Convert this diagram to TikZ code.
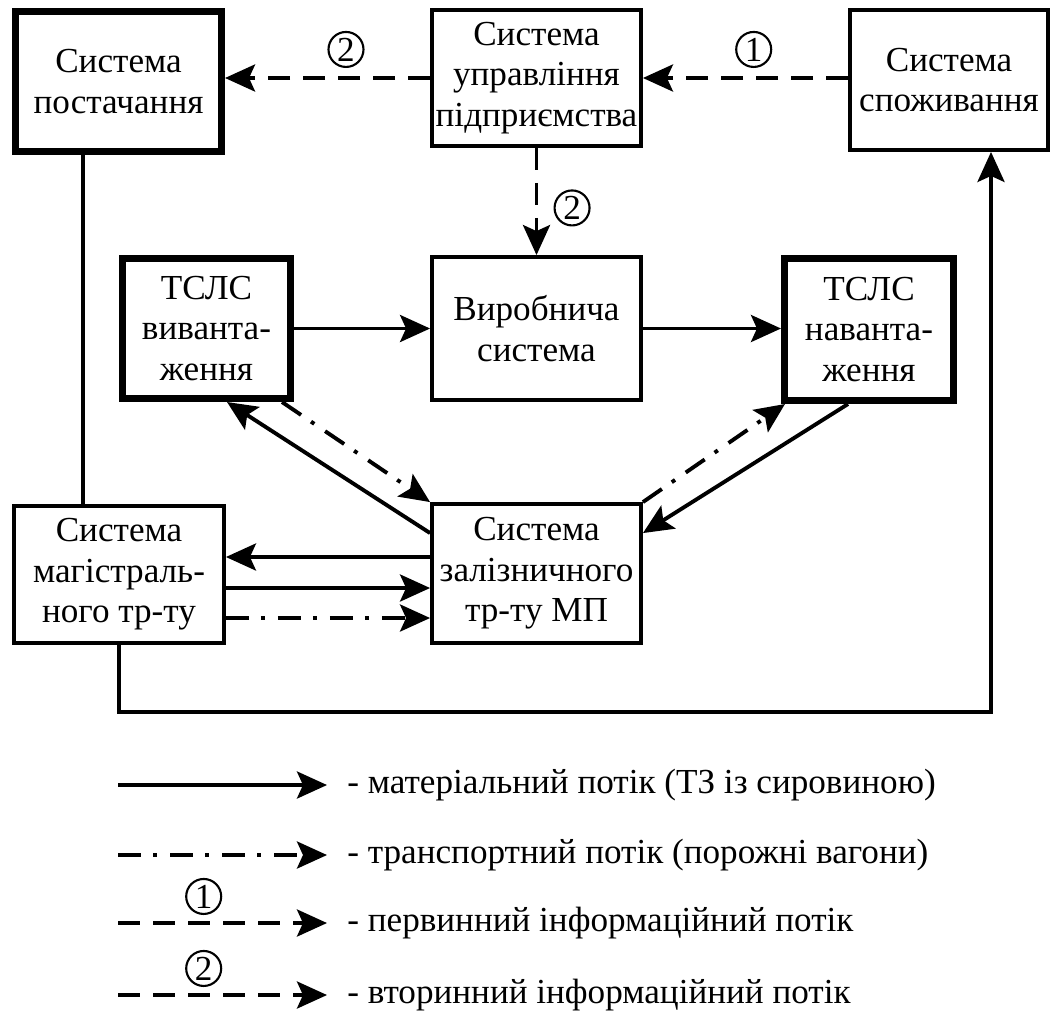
\documentclass[tikz,border=0pt]{standalone}
\usepackage{fontspec}
\setmainfont{Liberation Serif}
\usetikzlibrary{arrows.meta}

\tikzset{
  box/.style={draw, line width=2.2pt, align=center, inner sep=0pt,
    font=\fontsize{20}{23}\selectfont},
  thickbox/.style={box, line width=4pt},
  matflow/.style={-{Stealth[length=6mm, width=5.4mm, inset=1.2mm]}, line width=2.2pt},
  transflow/.style={matflow, dash pattern=on 4.6mm off 2.4mm on 0.8mm off 2.6mm},
  infoflow/.style={matflow, dash pattern=on 4.4mm off 2.6mm},
  num/.style={circle, draw, solid, line width=1.2pt, inner sep=0pt, minimum size=7mm,
    font=\fontsize{20}{20}\selectfont},
  legtext/.style={anchor=west, inner sep=0pt, font=\fontsize{20}{23}\selectfont}
}

\begin{document}
\begin{tikzpicture}[x=0.2mm, y=-0.2mm]
  \useasboundingbox (0,0) rectangle (1054,1014);

  % boxes
  \node[thickbox, minimum width=41.2mm, minimum height=28mm] (post) at (118.5,81.5)
    {Система\\постачання};
  \node[box, minimum width=41.8mm, minimum height=27.2mm] (upr) at (536.5,78)
    {Система\\управління\\підприємства};
  \node[box, minimum width=39.6mm, minimum height=28mm] (spoz) at (949,80)
    {Система\\споживання};
  \node[thickbox, minimum width=33.6mm, minimum height=28mm] (vyv) at (206.5,328.5)
    {ТСЛС\\виванта-\\ження};
  \node[box, minimum width=41.8mm, minimum height=28.6mm] (vyr) at (536.5,328.5)
    {Виробнича\\система};
  \node[thickbox, minimum width=33.8mm, minimum height=28.4mm] (nav) at (869,329.5)
    {ТСЛС\\наванта-\\ження};
  \node[box, minimum width=42mm, minimum height=27.4mm] (mag) at (119,574.5)
    {Система\\магістраль-\\ного тр-ту};
  \node[box, minimum width=41.8mm, minimum height=27.8mm] (zal) at (536.5,573.5)
    {Система\\залізничного\\тр-ту МП};

  % information flows
  \draw[infoflow] (upr.west) -- (upr.west -| post.east)
    node[num, pos=0.41, above=2mm] (n2a) {2};
  \draw[infoflow] (spoz.west |- upr.west) -- (upr.west -| upr.east)
    node[num, pos=0.46, above=2mm] (n1) {1};
  \draw[infoflow] (upr.south) -- (vyr.north)
    node[num, pos=0.56, right=3.4mm] (n2b) {2};

  % material flows
  \draw[matflow] (vyv.east) -- (vyv.east -| vyr.west);
  \draw[matflow] (vyr.east) -- (vyr.east -| nav.west);
  \draw[matflow] ([yshift=-6.2mm]zal.north west) -- ([xshift=4.1mm]vyv.south);
  \draw[matflow] ([xshift=-4.2mm]nav.south) -- ([yshift=-6.2mm]zal.north east);
  \draw[matflow] ([yshift=3.3mm]zal.west) -- ([yshift=3.3mm]zal.west -| mag.east);
  \draw[matflow] ([yshift=-2.9mm]zal.west -| mag.east) -- ([yshift=-2.9mm]zal.west);
  \draw[line width=2.2pt] ([xshift=-7.1mm]post.south) -- ([xshift=-7.1mm]post.south |- mag.north);
  \coordinate (turn) at (991,712);
  \draw[matflow] (mag.south) |- (turn) -- (turn |- spoz.south);

  % transport flows
  \draw[transflow] ([xshift=15.1mm]vyv.south) -- (zal.north west);
  \draw[transflow] (zal.north east) -- ([xshift=0.8mm]nav.south west);
  \draw[transflow] ([yshift=-8.9mm]zal.west -| mag.east) -- ([yshift=-8.9mm]zal.west);

  % legend
  \node[legtext] (lg1) at (347,785) {- матеріальний потік (ТЗ із сировиною)};
  \node[legtext] (lg2) at (347,855) {- транспортний потік (порожні вагони)};
  \node[legtext] (lg3) at (347,923) {- первинний інформаційний потік};
  \node[legtext] (lg4) at (347,995) {- вторинний інформаційний потік};
  \coordinate (s1) at (118,785);
  \coordinate (s2) at (118,855);
  \coordinate (s3) at (118,923);
  \coordinate (s4) at (118,995);
  \draw[matflow] (s1) -- ([xshift=-4mm]lg1.west);
  \draw[transflow] (s2) -- ([xshift=-4mm]lg2.west);
  \draw[infoflow] (s3) -- ([xshift=-4mm]lg3.west)
    node[num, pos=0.41, above=1.6mm] (ln1) {1};
  \draw[infoflow] (s4) -- ([xshift=-4mm]lg4.west)
    node[num, pos=0.41, above=1.6mm] (ln2) {2};
\end{tikzpicture}
\end{document}
